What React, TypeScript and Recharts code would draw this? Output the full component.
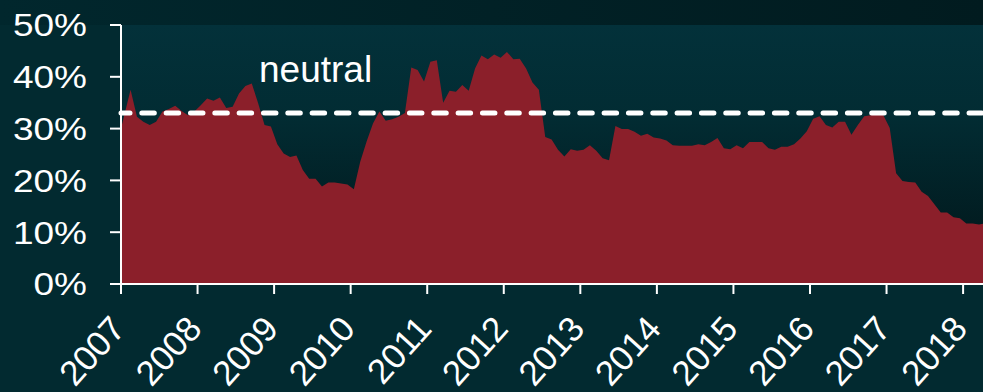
import { Area, AreaChart, CartesianGrid, ReferenceLine, XAxis, YAxis } from 'recharts'

// monthly share, Jan 2007 .. Apr 2018 (%)
const shares = [
  30, 37.5, 32.3, 31.3, 30.7, 31.3, 33.3, 33.8, 34.4, 33.4, 32.6, 33.3,
  34.5, 35.8, 35.4, 36.0, 34.0, 34.2, 36.8, 38.2, 38.7, 34.9, 30.7, 30.4,
  27.0, 25.2, 24.5, 24.8, 22.0, 20.3, 20.3, 18.8, 19.6, 19.6, 19.4, 19.2,
  18.3, 23.6, 27.5, 31.0, 33.3, 31.5, 31.8, 32.3, 33.0, 41.8, 41.3, 39.1,
  42.9, 43.2, 35.0, 37.3, 37.1, 38.4, 37.3, 41.6, 44.1, 43.4, 44.3, 43.7,
  44.8, 43.4, 43.5, 41.6, 38.9, 37.5, 28.4, 27.9, 25.9, 24.6, 26.0, 25.7,
  25.9, 26.8, 25.7, 24.3, 23.9, 30.5, 29.9, 29.9, 29.4, 28.6, 29.0, 28.3,
  28.1, 27.7, 26.8, 26.7, 26.7, 26.7, 27.0, 26.8, 27.4, 28.2, 26.2, 26.0,
  26.8, 26.2, 27.4, 27.4, 27.4, 26.2, 25.9, 26.5, 26.5, 27.0, 28.1, 29.5,
  31.9, 32.4, 30.7, 30.2, 31.3, 31.3, 28.8, 30.7, 32.4, 32.6, 32.8, 32.6,
  30.1, 21.4, 19.9, 19.7, 19.6, 17.8, 17.0, 15.4, 13.8, 13.8, 12.9, 12.7,
  11.7, 11.7, 11.5, 11.7
]

const startYear = 2007
const endYear = 2018.26
const years = [2007, 2008, 2009, 2010, 2011, 2012, 2013, 2014, 2015, 2016, 2017, 2018]
const yTicks = [0, 10, 20, 30, 40, 50]
const neutral = 33

// first reading sits on the start of the axis, the rest mid-month
const dates = shares.map((_, i) => (i === 0 ? startYear : startYear + (i + 0.5) / 12))
const data = shares.map((v, i) => ({ t: dates[i], v }))

const FONT = '"Liberation Sans", Arial, sans-serif'

const YTick = ({ x, y, payload }: any) => (
  <text
    transform={`translate(${x - 21},${y}) scale(1,0.86)`}
    dy='0.355em'
    textAnchor='end'
    fill='#ffffff'
    fontSize={37}
    fontFamily={FONT}
  >
    {payload.value}%
  </text>
)

const XTick = ({ x, payload }: any) => (
  <text
    transform={`translate(${x + 6},330) rotate(-48)`}
    textAnchor='end'
    fill='#ffffff'
    fontSize={35}
    fontFamily={FONT}
  >
    {payload.value}
  </text>
)

const NeutralLabel = ({ viewBox }: any) => (
  <text
    x={viewBox.x + 138}
    y={viewBox.y - 31}
    fill='#ffffff'
    fontSize={37}
    fontFamily={FONT}
  >
    neutral
  </text>
)

export default function App() {
  return (
    <div
      style={{
        position: 'absolute',
        left: 0,
        top: 0,
        width: 983,
        height: 392,
        background:
          'linear-gradient(to bottom, rgba(0,0,0,0) 25px, #022a30 25px), linear-gradient(to right, #01272d, #011b1f)'
      }}
    >
      <AreaChart
        width={983}
        height={392}
        data={data}
        margin={{ top: 25, right: 0, bottom: 0, left: 0 }}
      >
        <defs>
          <linearGradient id='plotBg' x1='0' y1='0' x2='0' y2='1'>
            <stop offset='0' stopColor='#03313a' />
            <stop offset='0.35' stopColor='#022c33' />
            <stop offset='1' stopColor='#011417' />
          </linearGradient>
        </defs>
        <CartesianGrid horizontal={false} vertical={false} fill='url(#plotBg)' />
        <Area
          type='linear'
          dataKey='v'
          stroke='none'
          fill='#8b1f2a'
          fillOpacity={1}
          isAnimationActive={false}
        />
        <ReferenceLine
          y={neutral}
          stroke='#ffffff'
          strokeWidth={5}
          strokeDasharray='12.5 11.83'
          strokeDashoffset={3.5}
          strokeLinecap='round'
          label={<NeutralLabel />}
        />
        <XAxis
          dataKey='t'
          type='number'
          domain={[startYear, endYear]}
          ticks={years}
          allowDataOverflow
          height={108}
          tickSize={10}
          stroke='#ffffff'
          strokeWidth={2}
          tickLine={{ stroke: '#ffffff', strokeWidth: 2 }}
          tick={<XTick />}
          interval={0}
        />
        <YAxis
          type='number'
          domain={[0, 50]}
          ticks={yTicks}
          allowDataOverflow
          width={121}
          tickSize={11}
          stroke='#ffffff'
          strokeWidth={2}
          tickLine={{ stroke: '#ffffff', strokeWidth: 2 }}
          tick={<YTick />}
          interval={0}
        />
      </AreaChart>
    </div>
  )
}
